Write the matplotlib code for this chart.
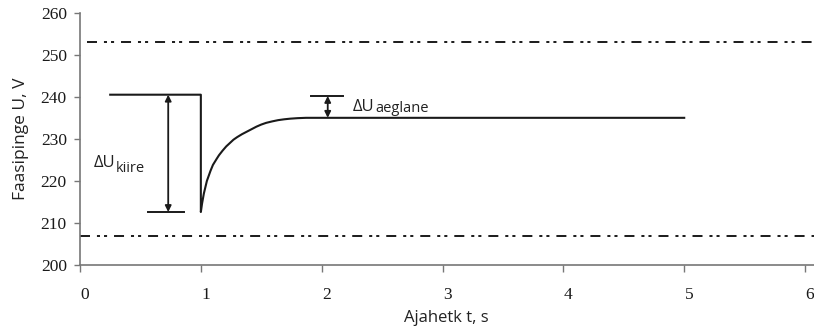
import matplotlib.pyplot as plt
from matplotlib.transforms import ScaledTranslation

plt.rcParams['lines.scale_dashes'] = False

# voltage trace: step at t=1 s, then recovery to the new level
t = [0.25, 1.0, 1.0, 1.01, 1.025, 1.05, 1.08, 1.1, 1.13, 1.15, 1.18, 1.21, 1.24,
     1.27, 1.3, 1.34, 1.38, 1.42, 1.46, 1.5, 1.54, 1.59, 1.64, 1.69, 1.74, 1.8,
     1.87, 2.0, 5.0]
u = [240.5, 240.5, 212.6, 214.6, 217.0, 220.0, 222.4, 223.8, 225.2, 226.1, 227.2,
     228.2, 229.0, 229.8, 230.4, 231.1, 231.7, 232.3, 232.9, 233.4, 233.8, 234.15,
     234.45, 234.65, 234.8, 234.92, 235.0, 235.0, 235.0]

# permitted band (230 V +/- 10 %)
u_max = 253.0
u_min = 207.0
band_start = [0.06, 0.0]

# fast and slow deviation markers
kiire_top, kiire_bottom, kiire_t = 240.5, 212.6, 0.73
aeglane_top, aeglane_bottom, aeglane_t = 240.2, 235.0, 2.05

xticks = [0, 1, 2, 3, 4, 5, 6]
yticks = [200, 210, 220, 230, 240, 250, 260]

W, H = 814, 329
fig = plt.figure(figsize=(W / 100, H / 100), dpi=100)
ax = fig.add_axes([80 / W, (H - 265) / H, 1 - 80 / W, (265 - 12.7) / H])

line_c = '#1a1a1a'
dd = [7.2, 5, 2.2, 2.9, 2.2, 5]
for lvl, x0 in zip([u_max, u_min], band_start):
    ax.plot([x0, 6.2], [lvl, lvl], color=line_c, lw=1.4, dashes=dd,
            dash_capstyle='butt')

ax.plot(t, u, color=line_c, lw=1.5, solid_joinstyle='round')

# delta markers
arrow = dict(arrowstyle='<|-|>', color=line_c, lw=1.3, mutation_scale=9,
             shrinkA=0, shrinkB=0)
ax.plot([0.56, 0.86], [kiire_bottom, kiire_bottom], color=line_c, lw=1.4)
ax.annotate('', xy=(kiire_t, kiire_bottom), xytext=(kiire_t, kiire_top),
            arrowprops=arrow)
ax.plot([1.91, 2.18], [aeglane_top, aeglane_top], color=line_c, lw=1.4)
ax.annotate('', xy=(aeglane_t, aeglane_bottom), xytext=(aeglane_t, aeglane_top),
            arrowprops=arrow)

sans = 'Open Sans'
txt_c = '#222'
ax.text(0.11, 223.4, 'ΔU', fontsize=12, family=sans, color=txt_c, va='baseline')
ax.text(0.295, 222.2, 'kiire', fontsize=10.5, family=sans, color=txt_c, va='baseline')
ax.text(2.259, 236.7, 'ΔU', fontsize=12, family=sans, color=txt_c, va='baseline')
ax.text(2.445, 236.3, 'aeglane', fontsize=10.5, family=sans, color=txt_c,
        va='baseline')

ax.set_xlim(0, 6.074)
ax.set_ylim(200, 260)
ax.set_xticks(xticks)
ax.set_yticks(yticks)
ax.set_xticklabels([str(v) for v in xticks], family='Liberation Serif',
                   fontsize=12.5, color='#1a1a1a')
ax.set_yticklabels([str(v) for v in yticks], family='Liberation Serif',
                   fontsize=12.5, color='#1a1a1a')
ax.tick_params(axis='x', length=5, width=1, color='#777', pad=11)
ax.tick_params(axis='y', length=4, width=1, color='#777', pad=5.5)

# x labels sit a little right of their ticks
shift = ScaledTranslation(5 / 100, 0, fig.dpi_scale_trans)
for lab in ax.get_xticklabels():
    lab.set_transform(lab.get_transform() + shift)

for s in ['top', 'right']:
    ax.spines[s].set_visible(False)
for s in ['left', 'bottom']:
    ax.spines[s].set_color('#777')
    ax.spines[s].set_linewidth(1.2)

ax.set_xlabel('Ajahetk t, s', family=sans, fontsize=12, color=txt_c)
ax.xaxis.set_label_coords(3.03 / 6.074, -0.178)
ax.set_ylabel('Faasipinge U, V', family=sans, fontsize=12.5, color=txt_c)
ax.yaxis.set_label_coords(-0.07, 0.5)

fig.savefig('out.png', dpi=100)
